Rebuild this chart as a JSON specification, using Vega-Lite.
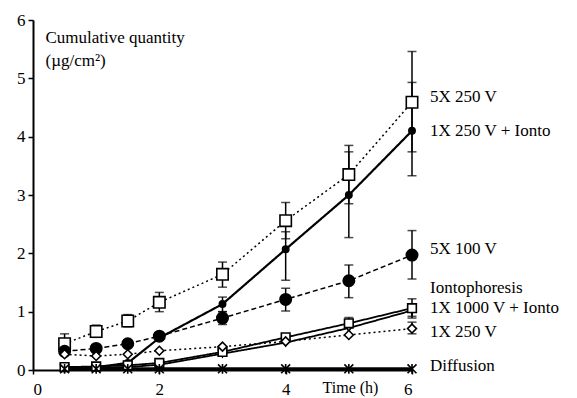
{
  "$schema": "https://vega.github.io/schema/vega-lite/v6.json",
  "width": 379,
  "height": 350,
  "autosize": {"type": "none"},
  "padding": {"left": 33, "top": 20, "right": 165, "bottom": 28},
  "background": "white",
  "config": {
    "view": {"stroke": null},
    "font": "Liberation Serif",
    "axis": {"grid": false, "domainColor": "black", "tickColor": "black", "labelColor": "black", "titleColor": "black", "labelFont": "Liberation Serif", "titleFont": "Liberation Serif", "labelFontSize": 17, "titleFontWeight": "normal", "domainWidth": 2, "tickWidth": 1.5}
  },
  "datasets": {
    "pts": [
      {"s": "5X 250 V", "t": 0.5, "v": 0.45, "lo": 0.3, "hi": 0.62},
      {"s": "5X 250 V", "t": 1, "v": 0.66, "lo": 0.56, "hi": 0.77},
      {"s": "5X 250 V", "t": 1.5, "v": 0.84, "lo": 0.74, "hi": 0.95},
      {"s": "5X 250 V", "t": 2, "v": 1.16, "lo": 1.0, "hi": 1.33},
      {"s": "5X 250 V", "t": 3, "v": 1.64, "lo": 1.42, "hi": 1.85},
      {"s": "5X 250 V", "t": 4, "v": 2.56, "lo": 2.25, "hi": 2.87},
      {"s": "5X 250 V", "t": 5, "v": 3.35, "lo": 2.85, "hi": 3.85},
      {"s": "5X 250 V", "t": 6, "v": 4.59, "lo": 3.74, "hi": 5.46},
      {"s": "1X 250 V + Ionto", "t": 0.5, "v": 0.03},
      {"s": "1X 250 V + Ionto", "t": 1, "v": 0.05},
      {"s": "1X 250 V + Ionto", "t": 1.5, "v": 0.12},
      {"s": "1X 250 V + Ionto", "t": 2, "v": 0.55},
      {"s": "1X 250 V + Ionto", "t": 3, "v": 1.13, "lo": 1.0, "hi": 1.25},
      {"s": "1X 250 V + Ionto", "t": 4, "v": 2.07, "lo": 1.54, "hi": 2.37},
      {"s": "1X 250 V + Ionto", "t": 5, "v": 3.0, "lo": 2.27, "hi": 3.74},
      {"s": "1X 250 V + Ionto", "t": 6, "v": 4.1, "lo": 3.33, "hi": 4.93},
      {"s": "5X 100 V", "t": 0.5, "v": 0.32},
      {"s": "5X 100 V", "t": 1, "v": 0.37},
      {"s": "5X 100 V", "t": 1.5, "v": 0.45},
      {"s": "5X 100 V", "t": 2, "v": 0.58},
      {"s": "5X 100 V", "t": 3, "v": 0.89, "lo": 0.78, "hi": 1.0},
      {"s": "5X 100 V", "t": 4, "v": 1.21, "lo": 1.01, "hi": 1.4},
      {"s": "5X 100 V", "t": 5, "v": 1.53, "lo": 1.24, "hi": 1.8},
      {"s": "5X 100 V", "t": 6, "v": 1.97, "lo": 1.56, "hi": 2.39},
      {"s": "Iontophoresis", "t": 0.5, "v": 0.03},
      {"s": "Iontophoresis", "t": 1, "v": 0.04},
      {"s": "Iontophoresis", "t": 1.5, "v": 0.05},
      {"s": "Iontophoresis", "t": 2, "v": 0.09},
      {"s": "Iontophoresis", "t": 3, "v": 0.28},
      {"s": "Iontophoresis", "t": 4, "v": 0.47},
      {"s": "Iontophoresis", "t": 5, "v": 0.72},
      {"s": "Iontophoresis", "t": 6, "v": 1.02, "lo": 0.92, "hi": 1.12},
      {"s": "1X 1000 V + Ionto", "t": 0.5, "v": 0.05},
      {"s": "1X 1000 V + Ionto", "t": 1, "v": 0.06},
      {"s": "1X 1000 V + Ionto", "t": 1.5, "v": 0.08},
      {"s": "1X 1000 V + Ionto", "t": 2, "v": 0.12},
      {"s": "1X 1000 V + Ionto", "t": 3, "v": 0.31},
      {"s": "1X 1000 V + Ionto", "t": 4, "v": 0.56},
      {"s": "1X 1000 V + Ionto", "t": 5, "v": 0.8, "lo": 0.72, "hi": 0.9},
      {"s": "1X 1000 V + Ionto", "t": 6, "v": 1.06, "lo": 0.89, "hi": 1.22},
      {"s": "1X 250 V", "t": 0.5, "v": 0.27},
      {"s": "1X 250 V", "t": 1, "v": 0.24},
      {"s": "1X 250 V", "t": 1.5, "v": 0.27},
      {"s": "1X 250 V", "t": 2, "v": 0.33},
      {"s": "1X 250 V", "t": 3, "v": 0.4},
      {"s": "1X 250 V", "t": 4, "v": 0.49},
      {"s": "1X 250 V", "t": 5, "v": 0.6},
      {"s": "1X 250 V", "t": 6, "v": 0.71, "lo": 0.62, "hi": 0.82},
      {"s": "Diffusion", "t": 0.5, "v": 0.02},
      {"s": "Diffusion", "t": 1, "v": 0.02},
      {"s": "Diffusion", "t": 1.5, "v": 0.02},
      {"s": "Diffusion", "t": 2, "v": 0.02},
      {"s": "Diffusion", "t": 3, "v": 0.02},
      {"s": "Diffusion", "t": 4, "v": 0.02},
      {"s": "Diffusion", "t": 5, "v": 0.02},
      {"s": "Diffusion", "t": 6, "v": 0.02}
    ],
    "labels": [
      {"s": "5X 250 V", "t": 6, "ly": 4.68},
      {"s": "1X 250 V + Ionto", "t": 6, "ly": 4.09},
      {"s": "5X 100 V", "t": 6, "ly": 2.07},
      {"s": "Iontophoresis", "t": 6, "ly": 1.4},
      {"s": "1X 1000 V + Ionto", "t": 6, "ly": 1.06},
      {"s": "1X 250 V", "t": 6, "ly": 0.65},
      {"s": "Diffusion", "t": 6, "ly": 0.07}
    ]
  },
  "layer": [
    {
      "data": {"name": "pts"},
      "transform": [{"filter": "isValid(datum.lo)"}],
      "mark": {"type": "rule", "color": "black", "strokeWidth": 1.5},
      "encoding": {
        "x": {"field": "t", "type": "quantitative", "scale": {"domain": [0, 6], "nice": false},
          "axis": {"values": [0, 2, 4, 6], "format": "d", "tickSize": 4, "labelPadding": 7, "labelFont": "Liberation Serif", "titleFont": "Liberation Serif", "title": "Time (h)", "titleFontSize": 16, "titleX": 317, "titleY": 22, "titleAlign": "center", "titleBaseline": "alphabetic"}},
        "y": {"field": "lo", "type": "quantitative", "scale": {"domain": [0, 6], "nice": false},
          "axis": {"values": [0, 1, 2, 3, 4, 5, 6], "format": "d", "tickSize": 5, "labelPadding": 3, "labelFont": "Liberation Serif", "titleFont": "Liberation Serif", "title": ["Cumulative quantity", "(µg/cm²)"], "titleFontSize": 17, "titleAngle": 0, "titleX": 12, "titleY": 9, "titleAlign": "left", "titleBaseline": "top", "titleLineHeight": 23}},
        "y2": {"field": "hi"}
      }
    },
    {
      "data": {"name": "pts"},
      "transform": [{"filter": "isValid(datum.lo)"}, {"fold": ["lo", "hi"], "as": ["k", "e"]}],
      "mark": {"type": "tick", "orient": "horizontal", "color": "black", "size": 9, "thickness": 1.5},
      "encoding": {
        "x": {"field": "t", "type": "quantitative"},
        "y": {"field": "e", "type": "quantitative"}
      }
    },
    {
      "data": {"name": "pts"},
      "mark": {"type": "line", "color": "black"},
      "encoding": {
        "x": {"field": "t", "type": "quantitative"},
        "y": {"field": "v", "type": "quantitative"},
        "detail": {"field": "s"},
        "strokeDash": {"field": "s", "type": "nominal", "legend": null,
          "scale": {"domain": ["5X 250 V", "1X 250 V + Ionto", "5X 100 V", "Iontophoresis", "1X 1000 V + Ionto", "1X 250 V", "Diffusion"],
            "range": [[2, 3], [1, 0], [5, 3], [1, 0], [1, 0], [2, 3], [1, 0]]}},
        "strokeWidth": {"field": "s", "type": "nominal", "legend": null,
          "scale": {"type": "ordinal", "domain": ["5X 250 V", "1X 250 V + Ionto", "5X 100 V", "Iontophoresis", "1X 1000 V + Ionto", "1X 250 V", "Diffusion"],
            "range": [1.5, 2.2, 1.5, 1.8, 1.8, 1.5, 3.2]}}
      }
    },
    {
      "data": {"name": "pts"},
      "mark": {"type": "point", "filled": true, "stroke": "black", "strokeWidth": 1.6, "opacity": 1},
      "encoding": {
        "x": {"field": "t", "type": "quantitative"},
        "y": {"field": "v", "type": "quantitative"},
        "shape": {"field": "s", "type": "nominal", "legend": null,
          "scale": {"domain": ["5X 250 V", "1X 250 V + Ionto", "5X 100 V", "Iontophoresis", "1X 1000 V + Ionto", "1X 250 V", "Diffusion"],
            "range": ["square", "circle", "circle", "triangle-down", "square", "diamond", "M-1,-1L1,1M-1,1L1,-1M0,-1.1L0,1.1"]}},
        "fill": {"field": "s", "type": "nominal", "legend": null,
          "scale": {"domain": ["5X 250 V", "1X 250 V + Ionto", "5X 100 V", "Iontophoresis", "1X 1000 V + Ionto", "1X 250 V", "Diffusion"],
            "range": ["white", "black", "black", "white", "white", "white", "black"]}},
        "size": {"field": "s", "type": "nominal", "legend": null,
          "scale": {"type": "ordinal", "domain": ["5X 250 V", "1X 250 V + Ionto", "5X 100 V", "Iontophoresis", "1X 1000 V + Ionto", "1X 250 V", "Diffusion"],
            "range": [130, 40, 130, 60, 75, 80, 80]}}
      }
    },
    {
      "data": {"name": "labels"},
      "mark": {"type": "text", "align": "left", "baseline": "middle", "dx": 18, "fontSize": 17, "font": "Liberation Serif", "color": "black"},
      "encoding": {
        "x": {"field": "t", "type": "quantitative"},
        "y": {"field": "ly", "type": "quantitative"},
        "text": {"field": "s"}
      }
    }
  ]
}
